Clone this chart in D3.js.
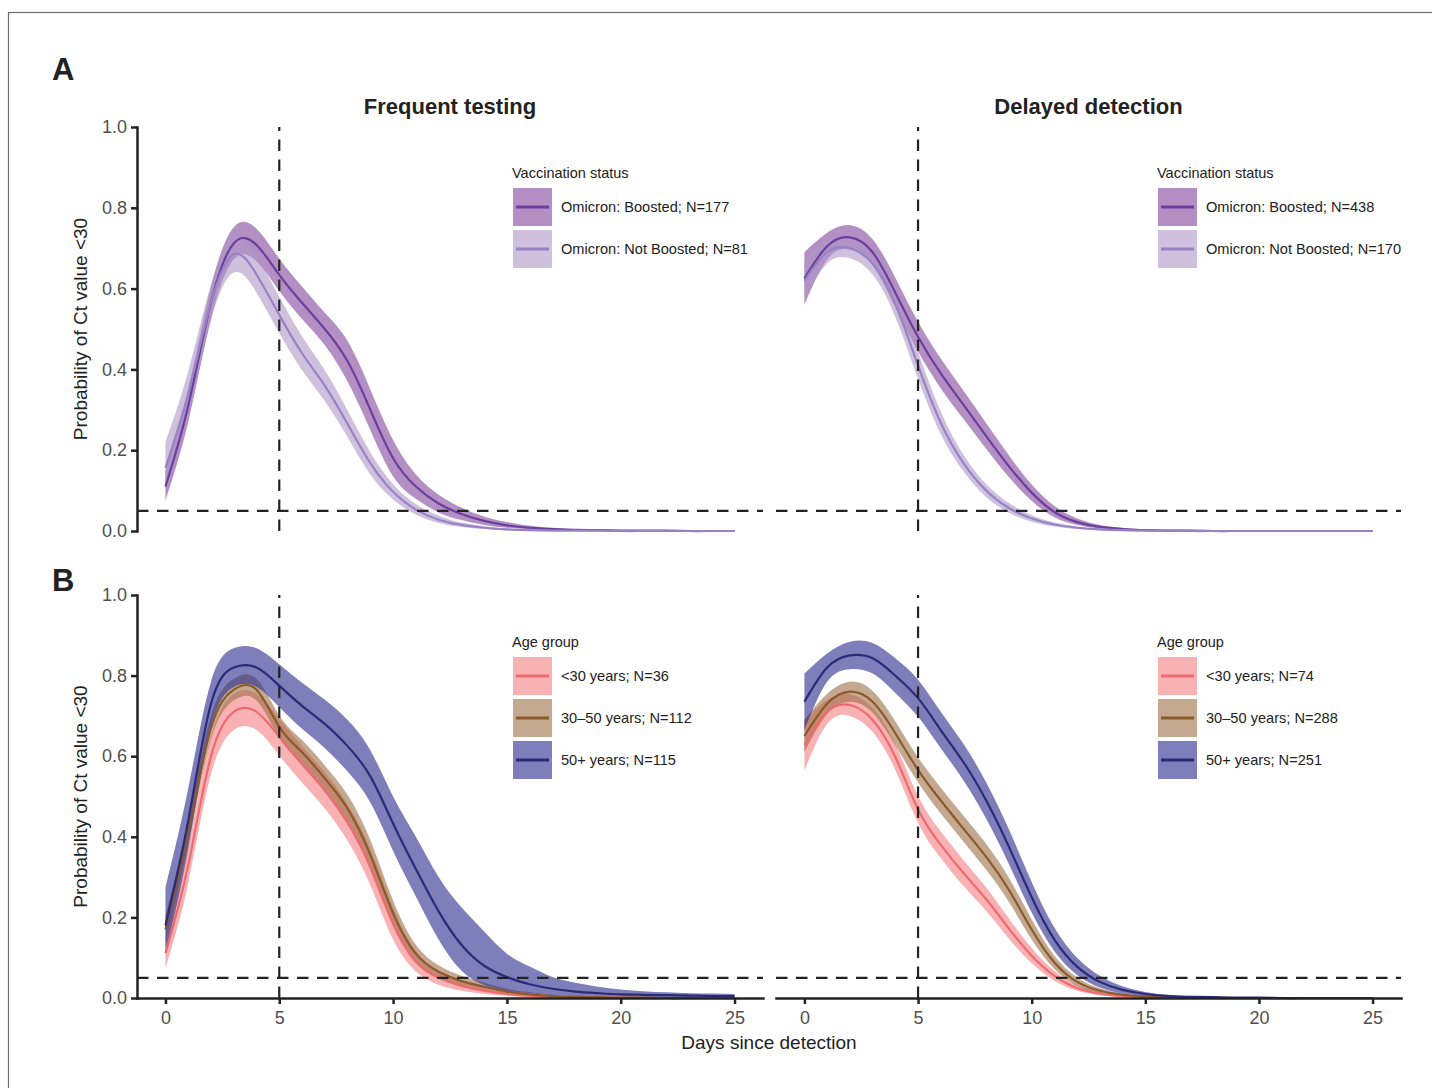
<!DOCTYPE html>
<html><head><meta charset="utf-8">
<script src="https://cdn.jsdelivr.net/npm/d3@7"></script>
<style>body{margin:0;background:#fff} svg{display:block}</style>
</head><body><svg id="chart"></svg>
<script>
// ---------------- DATA ----------------
const days = [0,1,2,3,4,5,6,7,8,9,10,11,12,13,14,15,16,17,18,19,20,21,22,23,24,25];
const xTicks = [0,5,10,15,20,25];
const yTicks = [0,0.2,0.4,0.6,0.8,1.0];
const facetTitles = ["Frequent testing","Delayed detection"];
const rowLabels = ["A","B"];
const yTitle = "Probability of Ct value <30";
const xTitle = "Days since detection";
const vaxTitle = "Vaccination status";
const ageTitle = "Age group";
const vaxLabelsFT = ["Omicron: Boosted; N=177","Omicron: Not Boosted; N=81"];
const vaxLabelsDD = ["Omicron: Boosted; N=438","Omicron: Not Boosted; N=170"];
const ageLabelsFT = ["<30 years; N=36","30\u201350 years; N=112","50+ years; N=115"];
const ageLabelsDD = ["<30 years; N=74","30\u201350 years; N=288","50+ years; N=251"];

// Panel A - Frequent testing
const ftBoostedMean = [0.110,0.310,0.565,0.712,0.708,0.634,0.565,0.500,0.420,0.300,0.180,0.110,0.068,0.042,0.025,0.014,0.008,0.005,0.003,0.002,0.001,0.001,0.001,0,0,0];
const ftBoostedLo   = [0.075,0.270,0.525,0.672,0.668,0.594,0.525,0.460,0.370,0.250,0.135,0.080,0.046,0.027,0.015,0.008,0.004,0.002,0.001,0.001,0,0,0,0,0,0];
const ftBoostedHi   = [0.150,0.350,0.605,0.752,0.748,0.674,0.605,0.540,0.470,0.350,0.225,0.140,0.090,0.058,0.036,0.022,0.013,0.008,0.005,0.003,0.002,0.002,0.002,0.001,0.001,0.001];
const ftNotMean = [0.156,0.340,0.565,0.685,0.635,0.535,0.440,0.360,0.265,0.168,0.097,0.053,0.028,0.015,0.008,0.004,0.002,0.001,0.001,0.001,0,0,0,0,0,0];
const ftNotLo   = [0.095,0.285,0.520,0.640,0.590,0.490,0.398,0.322,0.232,0.140,0.078,0.041,0.020,0.010,0.005,0.002,0.001,0,0,0,0,0,0,0,0,0];
const ftNotHi   = [0.220,0.395,0.610,0.730,0.680,0.580,0.482,0.398,0.298,0.195,0.116,0.067,0.038,0.021,0.012,0.006,0.003,0.002,0.001,0.001,0.001,0.001,0,0,0,0];
// Panel A - Delayed detection
const ddBoostedMean = [0.625,0.705,0.727,0.690,0.590,0.481,0.390,0.312,0.235,0.160,0.095,0.047,0.022,0.010,0.005,0.002,0.001,0.001,0,0,0,0,0,0,0,0];
const ddBoostedLo   = [0.560,0.672,0.697,0.658,0.553,0.444,0.353,0.277,0.203,0.133,0.075,0.034,0.015,0.006,0.003,0.001,0,0,0,0,0,0,0,0,0,0];
const ddBoostedHi   = [0.690,0.738,0.757,0.722,0.627,0.518,0.427,0.347,0.267,0.187,0.115,0.062,0.031,0.015,0.008,0.004,0.002,0.001,0.001,0,0,0,0,0,0,0];
const ddNotMean = [0.620,0.690,0.700,0.662,0.562,0.410,0.268,0.168,0.100,0.057,0.031,0.016,0.008,0.004,0.002,0.001,0.001,0,0,0,0,0,0,0,0,0];
const ddNotLo   = [0.570,0.662,0.675,0.635,0.530,0.377,0.240,0.147,0.084,0.045,0.023,0.011,0.005,0.002,0.001,0,0,0,0,0,0,0,0,0,0,0];
const ddNotHi   = [0.670,0.718,0.725,0.689,0.594,0.443,0.296,0.189,0.116,0.069,0.039,0.021,0.011,0.006,0.003,0.002,0.001,0.001,0,0,0,0,0,0,0,0];

// Panel B - Frequent testing
const ftY30Mean = [0.111,0.330,0.600,0.710,0.710,0.648,0.580,0.515,0.435,0.325,0.185,0.090,0.050,0.030,0.018,0.010,0.005,0.003,0.002,0.001,0.001,0,0,0,0,0];
const ftY30Lo   = [0.074,0.285,0.555,0.665,0.665,0.602,0.535,0.470,0.390,0.280,0.145,0.066,0.033,0.018,0.010,0.005,0.002,0.001,0,0,0,0,0,0,0,0];
const ftY30Hi   = [0.150,0.375,0.645,0.755,0.755,0.694,0.625,0.560,0.480,0.370,0.225,0.116,0.068,0.043,0.027,0.016,0.009,0.005,0.003,0.002,0.001,0.001,0,0,0,0];
const ftY3050Mean = [0.170,0.410,0.670,0.765,0.765,0.673,0.610,0.545,0.470,0.355,0.210,0.110,0.065,0.042,0.028,0.016,0.009,0.005,0.003,0.002,0.001,0.001,0,0,0,0];
const ftY3050Lo   = [0.140,0.380,0.640,0.738,0.738,0.645,0.580,0.513,0.436,0.318,0.178,0.088,0.049,0.030,0.019,0.010,0.005,0.003,0.001,0.001,0,0,0,0,0,0];
const ftY3050Hi   = [0.205,0.440,0.700,0.792,0.792,0.701,0.640,0.577,0.504,0.392,0.242,0.132,0.081,0.055,0.038,0.023,0.014,0.008,0.005,0.003,0.002,0.001,0.001,0,0,0];
const ftO50Mean = [0.180,0.440,0.730,0.820,0.820,0.775,0.725,0.680,0.625,0.550,0.433,0.320,0.215,0.132,0.080,0.052,0.034,0.023,0.016,0.012,0.009,0.008,0.007,0.006,0.005,0.005];
const ftO50Lo   = [0.110,0.370,0.670,0.772,0.772,0.722,0.668,0.620,0.562,0.485,0.365,0.252,0.145,0.068,0.032,0.018,0.012,0.007,0.005,0.004,0.003,0.002,0.002,0.001,0.001,0.001];
const ftO50Hi   = [0.275,0.520,0.785,0.868,0.868,0.828,0.782,0.740,0.690,0.615,0.500,0.400,0.300,0.225,0.165,0.110,0.078,0.052,0.038,0.028,0.021,0.017,0.014,0.012,0.011,0.010];
// Panel B - Delayed detection
const ddY30Mean = [0.628,0.710,0.727,0.690,0.598,0.468,0.380,0.310,0.245,0.172,0.105,0.055,0.025,0.011,0.005,0.002,0.001,0.001,0,0,0,0,0,0,0,0];
const ddY30Lo   = [0.565,0.680,0.700,0.660,0.566,0.435,0.347,0.278,0.216,0.147,0.086,0.043,0.018,0.007,0.003,0.001,0,0,0,0,0,0,0,0,0,0];
const ddY30Hi   = [0.690,0.740,0.754,0.720,0.630,0.501,0.413,0.342,0.274,0.197,0.124,0.067,0.032,0.015,0.007,0.003,0.002,0.001,0.001,0,0,0,0,0,0,0];
const ddY3050Mean = [0.650,0.730,0.760,0.735,0.657,0.566,0.490,0.420,0.350,0.268,0.170,0.088,0.040,0.018,0.008,0.004,0.002,0.001,0.001,0,0,0,0,0,0,0];
const ddY3050Lo   = [0.610,0.705,0.735,0.708,0.627,0.535,0.458,0.388,0.318,0.238,0.145,0.072,0.030,0.012,0.005,0.002,0.001,0,0,0,0,0,0,0,0,0];
const ddY3050Hi   = [0.690,0.755,0.785,0.762,0.687,0.597,0.522,0.452,0.382,0.298,0.195,0.105,0.051,0.024,0.011,0.006,0.003,0.002,0.001,0.001,0,0,0,0,0,0];
const ddO50Mean = [0.735,0.820,0.850,0.843,0.800,0.744,0.665,0.585,0.490,0.375,0.250,0.145,0.078,0.040,0.020,0.010,0.005,0.003,0.002,0.001,0.001,0,0,0,0,0];
const ddO50Lo   = [0.665,0.785,0.816,0.805,0.757,0.698,0.620,0.540,0.445,0.332,0.212,0.116,0.057,0.026,0.011,0.005,0.002,0.001,0.001,0,0,0,0,0,0,0];
const ddO50Hi   = [0.805,0.855,0.884,0.881,0.843,0.790,0.710,0.630,0.535,0.418,0.288,0.175,0.100,0.055,0.029,0.015,0.008,0.005,0.003,0.002,0.001,0.001,0.001,0,0,0];

// ---------------- STYLE ----------------
const vaxLine = ["#6b3f9e","#9683c6"];
const vaxFill = ["#80449d","#af96c8"];
const ageLine = ["#ef6a6f","#8b5a2b","#2a2a78"];
const ageFill = ["#f37f82","#9d6e46","#28288c"];
const FILL_OP = 0.6;
const FONT = '"Liberation Sans", Arial, Helvetica, sans-serif';
const INK = "#222";

const W = 1432, H = 1088;
const svg = d3.select("#chart").attr("width", W).attr("height", H)
  .style("font-family", FONT);

svg.append("rect").attr("x", 8.5).attr("y", 12.5).attr("width", 1600).attr("height", 1200)
  .attr("fill", "none").attr("stroke", "#6e6e6e").attr("stroke-width", 1.2);

const colX = [[137, 763], [776, 1401]];
const rowY = [[531, 127], [998, 595]];
const xDomain = [-1.25, 26.25];
const legendX = [512, 1157];
const legendTitleY = [178, 647];

const rows = [
  { legendTitle: vaxTitle, lineC: vaxLine, fillC: vaxFill, facets: [
    { labels: vaxLabelsFT, series: [[ftBoostedMean, ftBoostedLo, ftBoostedHi], [ftNotMean, ftNotLo, ftNotHi]] },
    { labels: vaxLabelsDD, series: [[ddBoostedMean, ddBoostedLo, ddBoostedHi], [ddNotMean, ddNotLo, ddNotHi]] }
  ]},
  { legendTitle: ageTitle, lineC: ageLine, fillC: ageFill, facets: [
    { labels: ageLabelsFT, series: [[ftY30Mean, ftY30Lo, ftY30Hi], [ftY3050Mean, ftY3050Lo, ftY3050Hi], [ftO50Mean, ftO50Lo, ftO50Hi]] },
    { labels: ageLabelsDD, series: [[ddY30Mean, ddY30Lo, ddY30Hi], [ddY3050Mean, ddY3050Lo, ddY3050Hi], [ddO50Mean, ddO50Lo, ddO50Hi]] }
  ]}
];

const curve = d3.curveNatural;
const idx = days.map((d, i) => i);

function styleAxis(g) {
  g.attr("font-family", FONT).attr("font-size", 18);
  g.select(".domain").attr("stroke", INK).attr("stroke-width", 2.5).attr("stroke-linecap", "square");
  g.selectAll(".tick line").attr("stroke", INK).attr("stroke-width", 2.5);
  g.selectAll(".tick text").attr("fill", "#505050");
}

rows.forEach((row, ri) => {
  const y = d3.scaleLinear().domain([0, 1]).range(rowY[ri]);
  row.facets.forEach((f, ci) => {
    const x = d3.scaleLinear().domain(xDomain).range(colX[ci]);
    const g = svg.append("g");

    // ribbons
    f.series.forEach((s, si) => {
      g.append("path").datum(idx)
        .attr("d", d3.area().curve(curve).x(i => x(days[i])).y0(i => y(s[1][i])).y1(i => y(s[2][i])))
        .attr("fill", row.fillC[si]).attr("fill-opacity", FILL_OP).attr("stroke", "none");
    });
    // lines
    f.series.forEach((s, si) => {
      g.append("path").datum(idx)
        .attr("d", d3.line().curve(curve).x(i => x(days[i])).y(i => y(s[0][i])))
        .attr("fill", "none").attr("stroke", row.lineC[si]).attr("stroke-width", 2.2);
    });

    // reference dashed lines
    const xr = x.range(), yr = y.range();
    g.append("line").attr("x1", xr[0]).attr("x2", xr[1]).attr("y1", y(0.05)).attr("y2", y(0.05))
      .attr("stroke", INK).attr("stroke-width", 2.2).attr("stroke-dasharray", "11.5,8.5");
    g.append("line").attr("x1", x(5)).attr("x2", x(5)).attr("y1", yr[0]).attr("y2", yr[1])
      .attr("stroke", INK).attr("stroke-width", 2.2).attr("stroke-dasharray", "11.5,8.5");

    // axes
    if (ci === 0) {
      const ya = svg.append("g").attr("transform", `translate(${xr[0]},0)`)
        .call(d3.axisLeft(y).tickValues(yTicks).tickFormat(d3.format(".1f")).tickSize(6).tickSizeOuter(0).tickPadding(4));
      styleAxis(ya);
    }
    if (ri === 1) {
      const xa = svg.append("g").attr("transform", `translate(0,${yr[0]})`)
        .call(d3.axisBottom(x).tickValues(xTicks).tickFormat(d3.format("d")).tickSize(6).tickSizeOuter(0).tickPadding(7));
      styleAxis(xa);
    }

    // facet title
    if (ri === 0) {
      svg.append("text").attr("x", (xr[0] + xr[1]) / 2).attr("y", 114)
        .attr("text-anchor", "middle").attr("font-size", 22).attr("font-weight", "bold").attr("fill", INK)
        .text(facetTitles[ci]);
    }

    // legend
    const lx = legendX[ci], ly = legendTitleY[ri];
    svg.append("text").attr("x", lx).attr("y", ly).attr("font-size", 14.5).attr("fill", INK).text(row.legendTitle);
    f.labels.forEach((lab, si) => {
      const ky = ly + 10 + si * 42;
      svg.append("rect").attr("x", lx + 1).attr("y", ky).attr("width", 39).attr("height", 38)
        .attr("fill", row.fillC[si]).attr("fill-opacity", FILL_OP);
      svg.append("line").attr("x1", lx + 4).attr("x2", lx + 37).attr("y1", ky + 19).attr("y2", ky + 19)
        .attr("stroke", row.lineC[si]).attr("stroke-width", 3);
      svg.append("text").attr("x", lx + 49).attr("y", ky + 19).attr("dy", "0.36em")
        .attr("font-size", 14.6).attr("fill", INK).text(lab);
    });
  });

  // row label and y title
  svg.append("text").attr("x", 52).attr("y", ri === 0 ? 80 : 591).attr("font-size", 31)
    .attr("font-weight", "bold").attr("fill", INK).text(rowLabels[ri]);
  const cy = (rowY[ri][0] + rowY[ri][1]) / 2;
  svg.append("text").attr("transform", `translate(87,${cy}) rotate(-90)`)
    .attr("text-anchor", "middle").attr("font-size", 19).attr("fill", INK).text(yTitle);
});

svg.append("text").attr("x", (colX[0][0] + colX[1][1]) / 2).attr("y", 1049)
  .attr("text-anchor", "middle").attr("font-size", 19).attr("fill", INK).text(xTitle);
</script>
</body></html>
